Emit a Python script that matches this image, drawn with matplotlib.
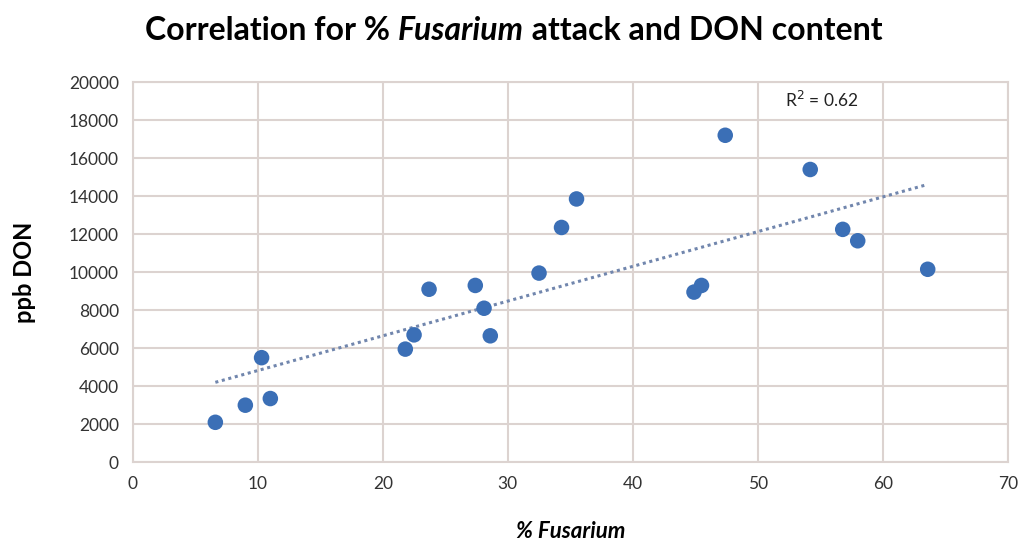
import matplotlib.pyplot as plt
import numpy as np

# % Fusarium attack vs DON content (ppb)
fusarium = [6.6, 9.0, 10.3, 11.0, 21.8, 22.5, 23.7, 27.4, 28.1, 28.6,
            32.5, 34.3, 35.5, 44.9, 45.5, 47.4, 54.2, 56.8, 58.0, 63.6]
don = [2100, 3000, 5500, 3350, 5950, 6700, 9100, 9300, 8100, 6650,
       9950, 12350, 13850, 8950, 9300, 17200, 15400, 12250, 11650, 10150]

plt.rcParams['font.family'] = ['Lato', 'DejaVu Sans']

fig = plt.figure(figsize=(10.22, 5.47), dpi=100)
ax = fig.add_axes([0.130, 0.155, 0.856, 0.695])

grid_col = '#dcd3d0'
ax.grid(True, color=grid_col, linewidth=1.5)
ax.set_axisbelow(True)

# linear trendline
x = np.array(fusarium)
y = np.array(don)
k, b = np.polyfit(x, y, 1)
xs = np.linspace(x.min(), x.max(), 50)
ax.plot(xs, k * xs + b, linestyle=(0, (1, 1.2)), color='#7186ad', linewidth=2.2, zorder=2)

ax.scatter(fusarium, don, s=125, color='#3b6fb6', zorder=3, edgecolors='none')

ax.set_xlim(0, 70)
ax.set_ylim(0, 20000)
ax.set_xticks(range(0, 71, 10))
ax.set_yticks(range(0, 20001, 2000))
for s in ax.spines.values():
    s.set_color(grid_col)
    s.set_linewidth(1.5)
ax.tick_params(length=0, labelsize=12.5, colors='#333333', pad=10)

ax.text(52.2, 18700, 'R$^2$ = 0.62', fontsize=12.5, color='#222222')

ax.set_xlabel('% Fusarium', fontsize=16, fontweight='bold', fontstyle='italic', labelpad=21)
ax.set_ylabel('ppb DON', fontsize=17, fontweight='bold', labelpad=24)

# title with italic genus name, built from three pieces
ty = 0.945
fig.canvas.draw()
r = fig.canvas.get_renderer()
t1 = fig.text(0.142, ty, 'Correlation for % ', fontsize=23, fontweight='bold', va='center')
x1 = t1.get_window_extent(r).x1 / fig.bbox.width
t2 = fig.text(x1, ty, 'Fusarium', fontsize=23, fontweight='bold', fontstyle='italic', va='center')
x2 = t2.get_window_extent(r).x1 / fig.bbox.width
fig.text(x2, ty, ' attack and DON content', fontsize=23, fontweight='bold', va='center')

fig.savefig('out.png', dpi=100)
